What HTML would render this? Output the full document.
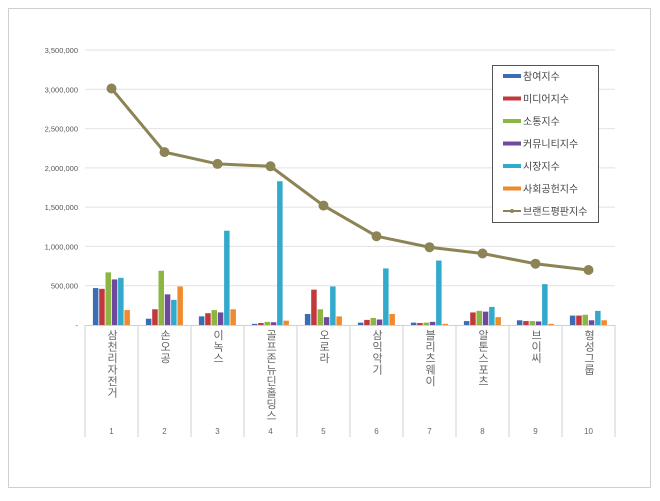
<!DOCTYPE html>
<html><head><meta charset="utf-8">
<style>
body{margin:0;background:#fff;}
svg text{font-family:"Liberation Sans","Noto Sans CJK KR",sans-serif;}
</style></head>
<body>
<svg id="chart" width="660" height="496" xmlns="http://www.w3.org/2000/svg">
<rect x="8.5" y="8.5" width="642" height="479" fill="#fff" stroke="#d0d0d0"/>
<g id="grid"></g><g id="bars"></g><g id="line"></g><g id="axes"></g>
<g id="legend"></g>
</svg>
<script>
const categories=["삼천리자전거","손오공","이녹스","골프존뉴딘홀딩스","오로라","삼익악기","블리츠웨이","알톤스포츠","브이씨","형성그룹"];
const ranks=["1","2","3","4","5","6","7","8","9","10"];
const seriesNames=["참여지수","미디어지수","소통지수","커뮤니티지수","시장지수","사회공헌지수"];
const participation=[470000,80000,110000,15000,140000,30000,30000,50000,60000,120000];
const media=[460000,200000,150000,25000,450000,65000,25000,160000,50000,120000];
const communication=[670000,690000,190000,40000,200000,90000,30000,180000,50000,130000];
const community=[580000,390000,160000,35000,100000,70000,40000,170000,45000,60000];
const market=[600000,320000,1200000,1830000,490000,720000,820000,230000,520000,180000];
const social=[190000,490000,200000,55000,110000,140000,15000,100000,15000,60000];
const brandIndex=[3010000,2200000,2050000,2020000,1520000,1130000,990000,910000,780000,700000];
const yTicks=[0,500000,1000000,1500000,2000000,2500000,3000000,3500000];
const yTickLabels=["-","500,000","1,000,000","1,500,000","2,000,000","2,500,000","3,000,000","3,500,000"];
const lineName="브랜드평판지수";
const colors=["#3b6db5","#c0393b","#8db543","#6e4a9c","#33aacb","#ef8a2e"];
const lineColor="#8c8455";
const NS="http://www.w3.org/2000/svg";
const X0=85,X1=615,Y0=325,Y1=50,MAX=3500000;
const bw=(X1-X0)/categories.length;
function y(v){return Y0-(v/MAX)*(Y0-Y1);}
function xc(i){return X0+bw*(i+0.5);}
function mk(tag,attrs,parent){const e=document.createElementNS(NS,tag);for(const k in attrs)e.setAttribute(k,attrs[k]);document.getElementById(parent).appendChild(e);return e;}
yTicks.forEach((t,i)=>{
 if(t>0){const l=mk("line",{x1:X0,x2:X1,y1:y(t),y2:y(t),stroke:"#e2e2e2"},"grid");
 
 }
 const tx=mk("text",{x:78,y:y(t)+3,"text-anchor":"end","font-size":"7.5",fill:"#555"},"axes");
 tx.textContent=yTickLabels[i];
 
 
});
const series=[participation,media,communication,community,market,social];
const barW=6.3;
series.forEach((s,si)=>{s.forEach((v,i)=>{
 const x=X0+bw*i+bw/2-3*barW+si*barW+0.3;
 const r=mk("rect",{x:x,y:y(v),width:barW-0.8,height:Y0-y(v),fill:colors[si]},"bars");
 
 
});});
const pts=brandIndex.map((v,i)=>xc(i)+","+y(v)).join(" ");
const pl=mk("polyline",{points:pts,fill:"none",stroke:lineColor,"stroke-width":"3"},"line");


brandIndex.forEach((v,i)=>{const c=mk("circle",{cx:xc(i),cy:y(v),r:5,fill:lineColor},"line");
 
 });
mk("line",{x1:X0,x2:X1,y1:Y0+0.5,y2:Y0+0.5,stroke:"#d0d0d0"},"axes");
for(let i=0;i<=categories.length;i++){mk("line",{x1:X0+bw*i,x2:X0+bw*i,y1:Y0,y2:437,stroke:"#d0d0d0"},"axes");}
categories.forEach((c,i)=>{
 const t=mk("text",{x:xc(i)+1,y:Y0+14,"font-size":"11",fill:"#666","text-anchor":"middle"},"axes");
 
 
 [...c].forEach((ch,k)=>{const sp=document.createElementNS(NS,"tspan");sp.setAttribute("x",xc(i)+1);sp.setAttribute("dy",k?"11.5":"0");sp.textContent=ch;t.appendChild(sp);});
 const n=mk("text",{x:xc(i),y:434,"font-size":"8","text-anchor":"middle",fill:"#666"},"axes");
 n.textContent=ranks[i];
 
 
});
mk("rect",{x:492.5,y:65.5,width:106,height:157,fill:"#fff",stroke:"#555"},"legend");
seriesNames.concat([lineName]).forEach((nm,i)=>{
 const ly=76+i*22.5;
 if(i<6){const r=mk("rect",{x:503,y:ly-2,width:18,height:4,fill:colors[i]},"legend");
  
  }
 else{mk("line",{x1:503,x2:521,y1:ly,y2:ly,stroke:lineColor,"stroke-width":"2"},"legend");mk("circle",{cx:512,cy:ly,r:2,fill:lineColor},"legend");}
 const t=mk("text",{x:523,y:ly+4,"font-size":"10",fill:"#444"},"legend");
 t.textContent=nm;
 
 
});
</script>
</body></html>
